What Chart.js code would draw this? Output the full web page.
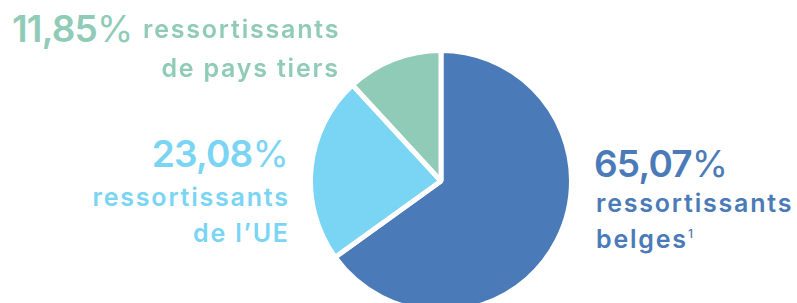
<!DOCTYPE html>
<html>
<head>
<meta charset="utf-8">
<script src="https://cdn.jsdelivr.net/npm/chart.js@4/dist/chart.umd.min.js"></script>
<style>
  html, body { margin: 0; padding: 0; width: 797px; height: 303px; overflow: hidden; background: #fff; }
  body { position: relative; font-family: Inter, "Noto Sans", sans-serif; }
  #wrap { position: absolute; left: 308px; top: 48px; width: 266px; height: 266px; }
  .lbl { position: absolute; white-space: nowrap; line-height: 1; }
  .pct { font-size: 37px; font-weight: 600; letter-spacing: -0.8px; }
  .pct span { font-weight: 400; }
  .txt { font-size: 25px; font-weight: 600; letter-spacing: 1.8px; }
  .r { text-align: right; margin-right: -1.8px; }
  .pct.r { margin-right: 0; }
  sup { font-size: 12px; vertical-align: 10px; font-weight: 500; letter-spacing: 0; }
</style>
</head>
<body>
<div id="wrap"><canvas id="c"></canvas></div>
<div id="labels"></div>
<script>
const categories = ["ressortissants belges", "ressortissants de l'UE", "ressortissants de pays tiers"];
const values = [65.07, 23.08, 11.85];
const valueLabels = ["65,07", "23,08", "11,85"];
const colors = ["#4a7bb8", "#7ad4f4", "#8fcbb6"];

new Chart(document.getElementById('c'), {
  type: 'pie',
  data: {
    labels: categories,
    datasets: [{
      data: values,
      backgroundColor: colors,
      borderColor: '#ffffff',
      borderWidth: 5,
      hoverOffset: 0
    }]
  },
  options: {
    responsive: true,
    maintainAspectRatio: false,
    animation: false,
    layout: { padding: 0 },
    plugins: { legend: { display: false }, tooltip: { enabled: false } }
  }
});

const L = document.getElementById('labels');
function add(html, cls, style) {
  const d = document.createElement('div');
  d.className = 'lbl ' + cls;
  d.innerHTML = html;
  Object.assign(d.style, style);
  L.appendChild(d);
}
// pays tiers (green)
add(valueLabels[2] + '<span>%</span>', 'pct', { left: '12px', top: '10px', color: colors[2] });
add('ressortissants', 'txt', { left: '143px', top: '17px', color: colors[2] });
add('de pays tiers', 'txt r', { right: '459px', top: '56px', color: colors[2] });
// UE (light blue)
add(valueLabels[1] + '<span>%</span>', 'pct r', { right: '509px', top: '135px', color: colors[1] });
add('ressortissants', 'txt r', { right: '509px', top: '185px', color: colors[1] });
add('de l\u2019UE', 'txt r', { right: '509px', top: '221px', color: colors[1] });
// belges (dark blue)
add(valueLabels[0] + '<span>%</span>', 'pct', { left: '594px', top: '145px', color: colors[0] });
add('ressortissants', 'txt', { left: '596px', top: '191px', color: colors[0] });
add('belges<sup>1</sup>', 'txt', { left: '596px', top: '227px', color: colors[0] });
</script>
</body>
</html>
